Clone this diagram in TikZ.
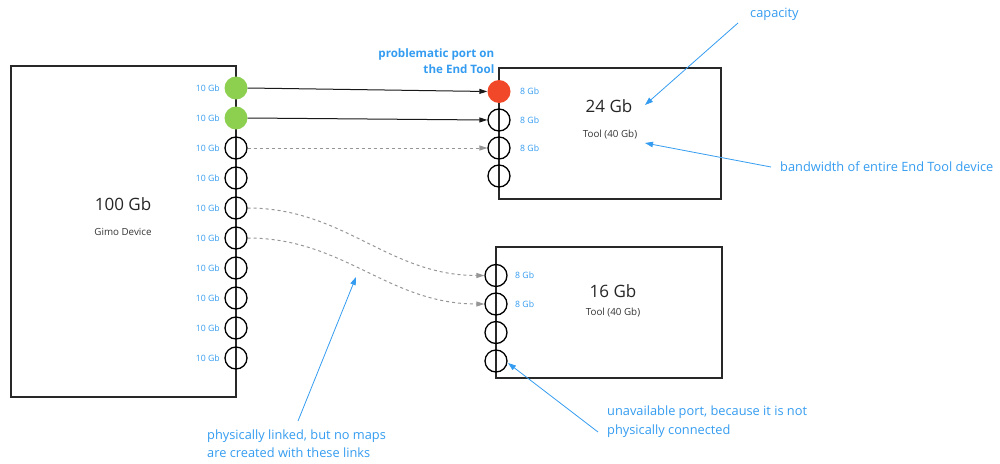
\documentclass[tikz,border=0pt]{standalone}
\usepackage{fontspec}
\setmainfont{Open Sans}
\usetikzlibrary{arrows.meta}
\definecolor{ann}{RGB}{52,156,240}
\definecolor{portgreen}{RGB}{141,208,80}
\definecolor{portred}{RGB}{240,72,40}
\definecolor{boxline}{RGB}{40,40,40}
\definecolor{dashgray}{RGB}{150,150,150}
\tikzset{
  device/.style={draw=boxline, line width=1.5pt, minimum width=#1, inner sep=0pt},
  port/.style={circle, draw=black, line width=1.3pt, minimum size=22pt, inner sep=0pt},
  goodport/.style={circle, fill=portgreen, minimum size=23pt, inner sep=0pt},
  badport/.style={circle, fill=portred, minimum size=23pt, inner sep=0pt},
  speed/.style={text=ann, font=\fontsize{8.7}{10}\selectfont, inner sep=0pt},
  big/.style={font=\fontsize{17}{20}\selectfont, text=black!85, inner sep=0pt},
  small/.style={font=\fontsize{9.8}{12}\selectfont, text=black!80, inner sep=0pt},
  note/.style={text=ann, font=\fontsize{12.8}{18.5}\selectfont, inner sep=0pt, align=left},
  notearrow/.style={draw=ann, line width=0.8pt, -{Triangle[length=8pt,width=5.5pt]}},
  link/.style={draw=black!90, line width=1pt, -{Triangle[length=8pt,width=5pt]}},
  deadlink/.style={draw=dashgray, line width=1pt, dash pattern=on 3pt off 3pt, -{Triangle[length=8pt,width=5pt,fill=dashgray]}}
}
\begin{document}
\begin{tikzpicture}[x=1pt,y=-1pt]
\useasboundingbox (0,0) rectangle (1000,463);
% devices
\node[device=225pt, minimum height=331pt] (gimo) at (123.5,231.5) {};
\node[device=222pt, minimum height=131pt] (tool1) at (610,133.5) {};
\node[device=226pt, minimum height=131pt] (tool2) at (609,312.5) {};
% device texts
\node[big] (gimocap) at (123,204) {100 Gb};
\node[small] (gimoname) at (123,232) {Gimo Device};
\node[big] (t1cap) at (609,106) {24 Gb};
\node[small] (t1name) at (610,135) {Tool (40 Gb)};
\node[big] (t2cap) at (613,291) {16 Gb};
\node[small] (t2name) at (613,313) {Tool (40 Gb)};
% gimo ports
\node[goodport] (g1) at (236,88) {};
\node[goodport] (g2) at (236,118) {};
\foreach \i/\y in {3/148,4/178,5/208,6/238,7/268,8/298,9/328,10/358}{
  \node[port] (g\i) at (236,\y) {};
}
\foreach \i/\y in {1/88,2/118,3/148,4/178,5/208,6/238,7/268,8/298,9/328,10/358}{
  \node[speed, anchor=east] (gl\i) at (220,\y) {10 Gb};
}
% tool1 ports
\node[badport] (t1) at (499,91.5) {};
\node[port] (t2) at (499,120) {};
\node[port] (t3) at (499,148) {};
\node[port] (t4) at (499,176) {};
\node[speed, anchor=west] (tl1) at (520,91.5) {8 Gb};
\node[speed, anchor=west] (tl2) at (520,120) {8 Gb};
\node[speed, anchor=west] (tl3) at (520,148) {8 Gb};
% tool2 ports
\node[port] (u1) at (496,275.5) {};
\node[port] (u2) at (496,304) {};
\node[port] (u3) at (496,332.5) {};
\node[port] (u4) at (496,361) {};
\node[speed, anchor=west] (ul1) at (515,275.5) {8 Gb};
\node[speed, anchor=west] (ul2) at (515,304) {8 Gb};
% links
\draw[link] (g1.east) -- (t1.west);
\draw[link] (g2.east) -- (t2.west);
\draw[deadlink] (g3.east) -- (t3.west);
\draw[deadlink] (g5.east) to[out=0,in=180] (u1.west);
\draw[deadlink] (g6.east) to[out=0,in=180] (u2.west);
% annotations
\node[note, align=right, font=\bfseries\fontsize{11.6}{16}\selectfont, anchor=east] (prob) at (494.5,61) {problematic port on\\the End Tool};
\node[note, anchor=west] (capn) at (750,14) {capacity};
\node[note, anchor=west] (bwn) at (780,167) {bandwidth of entire End Tool device};
\node[note, anchor=north west] (physn) at (207,429.5) {physically linked, but no maps\\are created with these links};
\node[note, anchor=north west] (unavn) at (607,406) {unavailable port, because it is not\\physically connected};
\coordinate (capfrom) at (738,23);
\coordinate (capto) at (645,105);
\coordinate (bwfrom) at (771,167);
\coordinate (bwto) at (645,143);
\coordinate (physfrom) at (298,421);
\coordinate (physto) at (356,277);
\coordinate (unavfrom) at (598,432);
\coordinate (unavto) at (508,363);
\draw[notearrow] (capfrom) -- (capto);
\draw[notearrow] (bwfrom) -- (bwto);
\draw[notearrow] (physfrom) -- (physto);
\draw[notearrow] (unavfrom) -- (unavto);
\end{tikzpicture}
\end{document}
